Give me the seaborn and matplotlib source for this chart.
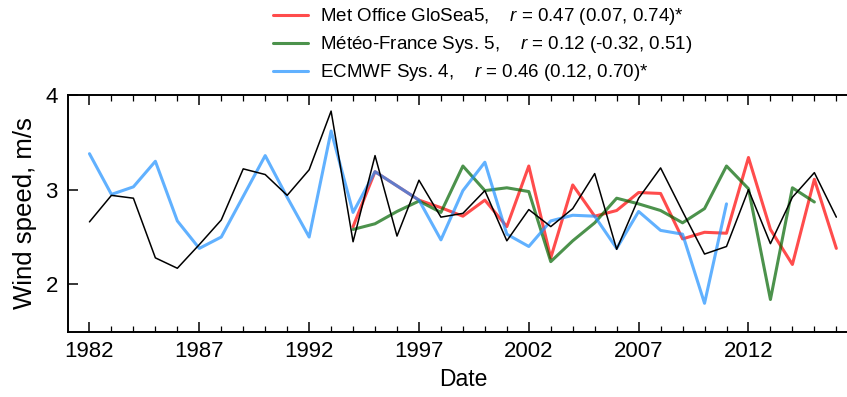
import numpy as np
import pandas as pd
import matplotlib
matplotlib.use("Agg")
import matplotlib.pyplot as plt
import seaborn as sns

# ---- data ----
obs_years = list(range(1982, 2017))
obs_vals = [2.66, 2.94, 2.91, 2.28, 2.17, 2.42, 2.68, 3.22, 3.16, 2.94, 3.21, 3.83,
            2.45, 3.36, 2.51, 3.10, 2.71, 2.75, 2.99, 2.46, 2.79, 2.61, 2.80,
            3.17, 2.37, 2.91, 3.23, 2.77, 2.32, 2.40, 3.00, 2.43, 2.92, 3.18, 2.71]

ecmwf_years = list(range(1982, 2012))
ecmwf_vals = [3.38, 2.95, 3.03, 3.30, 2.67, 2.38, 2.50, 2.93, 3.36, 2.92, 2.50, 3.62,
              2.76, 3.19, 3.04, 2.89, 2.47, 2.99, 3.29, 2.53, 2.40, 2.67, 2.73,
              2.72, 2.38, 2.77, 2.57, 2.53, 1.80, 2.85]

metoffice_years = list(range(1994, 2017))
metoffice_vals = [2.61, 3.19, 3.04, 2.89, 2.81, 2.72, 2.89, 2.61, 3.25, 2.28, 3.05,
                  2.72, 2.78, 2.97, 2.96, 2.48, 2.55, 2.54, 3.34, 2.58, 2.21, 3.11, 2.38]

meteofrance_years = list(range(1994, 2016))
meteofrance_vals = [2.58, 2.64, 2.77, 2.88, 2.76, 3.25, 2.99, 3.02, 2.98, 2.24, 2.46,
                    2.65, 2.91, 2.85, 2.78, 2.65, 2.80, 3.25, 3.01, 1.84, 3.02, 2.87]

labels = ["Met Office GloSea5,    $r$ = 0.47 (0.07, 0.74)*",
          "Météo-France Sys. 5,    $r$ = 0.12 (-0.32, 0.51)",
          "ECMWF Sys. 4,    $r$ = 0.46 (0.12, 0.70)*"]
x_ticks = [1982, 1987, 1992, 1997, 2002, 2007, 2012]
y_ticks = [2, 3, 4]

# ---- style ----
sns.set_style("ticks")
plt.rcParams["font.family"] = ["Liberation Sans", "DejaVu Sans"]
plt.rcParams["mathtext.fontset"] = "custom"
plt.rcParams["mathtext.it"] = "Liberation Sans:italic"
plt.rcParams["mathtext.rm"] = "Liberation Sans"
plt.rcParams["text.color"] = "black"
plt.rcParams["axes.labelcolor"] = "black"
plt.rcParams["xtick.color"] = "black"
plt.rcParams["ytick.color"] = "black"

fig = plt.figure(figsize=(8.47, 3.97), dpi=100)
ax = fig.add_axes([67.5 / 847, 1 - 331.7 / 397, (858.3 - 67.5) / 847, (331.7 - 95) / 397])

df_mo = pd.DataFrame({"year": metoffice_years, "val": metoffice_vals})
df_mf = pd.DataFrame({"year": meteofrance_years, "val": meteofrance_vals})
df_ec = pd.DataFrame({"year": ecmwf_years, "val": ecmwf_vals})
df_ob = pd.DataFrame({"year": obs_years, "val": obs_vals})

sns.lineplot(data=df_mo, x="year", y="val", ax=ax, color="red", alpha=0.7, lw=2.2,
             label=labels[0], zorder=3)
sns.lineplot(data=df_mf, x="year", y="val", ax=ax, color="darkgreen", alpha=0.7, lw=2.2,
             label=labels[1], zorder=3)
sns.lineplot(data=df_ec, x="year", y="val", ax=ax, color="dodgerblue", alpha=0.7, lw=2.2,
             label=labels[2], zorder=3)
sns.lineplot(data=df_ob, x="year", y="val", ax=ax, color="black", lw=1.1, zorder=4)

ax.set_xlim(1981, 2017)
ax.set_ylim(1.5, 4.0)
ax.set_xticks(x_ticks)
ax.set_xticks(list(range(1982, 2017)), minor=True)
ax.set_yticks(y_ticks)
ax.set_xticklabels([str(t) for t in x_ticks], fontsize=16)
ax.set_yticklabels([str(t) for t in y_ticks], fontsize=16)
ax.tick_params(axis="x", which="major", direction="in", top=True, length=7, width=1.1, pad=7)
ax.tick_params(axis="x", which="minor", direction="in", top=True, length=4, width=0.9)
ax.tick_params(axis="y", which="major", direction="in", left=True, right=False, length=7,
               width=1.1, pad=7)
ax.set_xlabel("Date", fontsize=16.5, labelpad=4)
ax.set_ylabel("Wind speed, m/s", fontsize=18.5, labelpad=6)
for s in ax.spines.values():
    s.set_linewidth(1.4)
    s.set_color("black")

h, l = ax.get_legend_handles_labels()
ax.get_legend().remove()
fig.legend(h, l, loc="upper left", bbox_to_anchor=(258 / 847, 1.022), frameon=False,
           fontsize=13.5, handlelength=1.88, handletextpad=0.65, labelspacing=0.37,
           borderpad=0.3)

fig.savefig("out.png", dpi=100)
